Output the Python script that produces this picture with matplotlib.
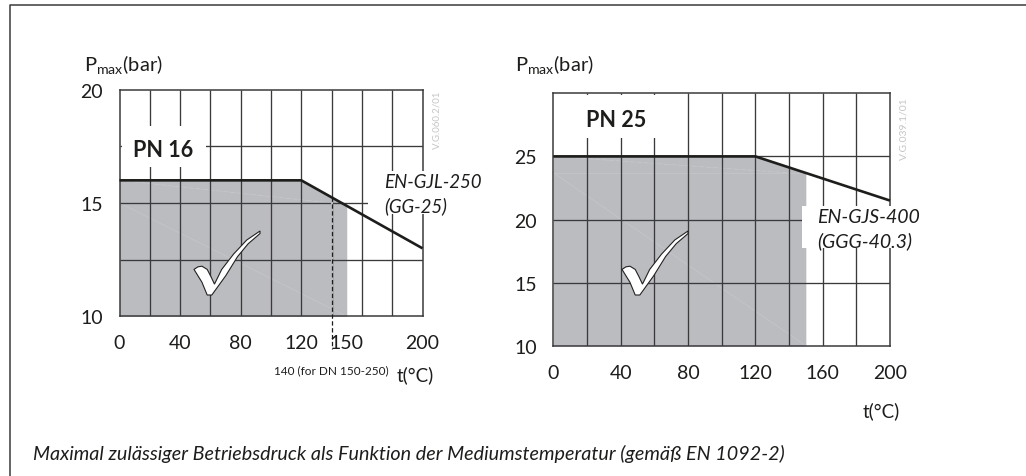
# coding: utf-8
""" max. operating pressure vs. medium temperature, PN 16 and PN 25 """
import matplotlib.pyplot as plt
from matplotlib.patches import Polygon, Rectangle

W, H = 1026, 477
plt.rcParams['font.family'] = ['Lato', 'DejaVu Sans']
plt.rcParams['mathtext.default'] = 'regular'

# PN 16 chart
t_16 = [0, 120, 200]
p_16 = [16, 16, 13]
fill_t_16 = [0, 120, 150]
fill_p_16 = [16, 16, 14.875]
xticks_16 = [0, 40, 80, 120, 150, 200]
yticks_16 = [10, 15, 20]
ygrid_16 = [12.5, 15, 17.5]
xgrid_16 = [20, 40, 60, 80, 100, 120, 140, 160, 180]

# PN 25 chart
t_25 = [0, 120, 200]
p_25 = [25, 25, 21.5]
fill_t_25 = [0, 120, 150]
fill_p_25 = [25, 25, 23.69]
xticks_25 = [0, 40, 80, 120, 160, 200]
yticks_25 = [10, 15, 20, 25]
ygrid_25 = [15, 20, 25]
xgrid_25 = [20, 40, 60, 80, 100, 120, 140, 160, 180]

caption = "Maximal zulässiger Betriebsdruck als Funktion der Mediumstemperatur (gemäß EN 1092-2)"

GRID = '#3a3a3c'
FILL = '#bbbcc0'
FAINT = '#c9c9cd'
# outline of the tick mark, 0..1 in both directions, y down
CHECK = [(0, .6), (.06, .56), (.12, .55), (.2, .6), (.26, .72), (.31, .83), (.42, .6), (.6, .36),
         (.8, .14), (1, 0), (1, .04), (.82, .2), (.66, .4), (.48, .7), (.27, 1), (.2, 1), (.12, .8)]


def fx(px):
    return px / W


def fy(py):
    return 1 - py / H


def make_axes(fig, left, top, right, bottom):
    return fig.add_axes([fx(left), fy(bottom), (right - left) / W, (bottom - top) / H])


def px_rect(ax, x0, y0, x1, y1, z):
    # white box behind a label, given in figure pixels
    ax.add_artist(Rectangle((fx(x0), fy(y1)), (x1 - x0) / W, (y1 - y0) / H, transform=ax.figure.transFigure,
                            fc='white', ec='none', zorder=z, clip_on=False))


def check(fig, x0, y0, w, h):
    pts = [(fx(x0 + a * w), fy(y0 + b * h)) for a, b in CHECK]
    fig.add_artist(Polygon(pts, closed=True, fc='white', ec='#222222', lw=0.8, zorder=10))


def draw(ax, t, p, fill_t, fill_p, xticks, yticks, xgrid, ygrid, xlim, ylim, xpad):
    ax.set_xlim(xlim)
    ax.set_ylim(ylim)
    ax.fill_between(fill_t, fill_p, ylim[0], color=FILL, lw=0, zorder=1)
    ax.vlines(xgrid, ylim[0], ylim[1], color=GRID, lw=0.95, zorder=2)
    ax.hlines(ygrid, xlim[0], xlim[1], color=GRID, lw=0.95, zorder=2)
    ax.plot(t, p, color='#1d1d1b', lw=1.9, zorder=6, solid_capstyle='butt', clip_on=False)
    ax.set_xticks(xticks)
    ax.set_yticks(yticks)
    ax.tick_params(length=0, labelsize=14, colors='#1d1d1b')
    ax.tick_params(axis='x', pad=xpad)
    ax.tick_params(axis='y', pad=12)
    for s in ax.spines.values():
        s.set_color(GRID)
        s.set_linewidth(1.1)
        s.set_zorder(3)


fig = plt.figure(figsize=(W / 100, H / 100), dpi=100)

# outer frame, open at the bottom and right
fig.add_artist(plt.Line2D([fx(9.7), fx(9.7), 1], [0, fy(5.7), fy(5.7)], color='#3a3a3c', lw=1.1))

ax1 = make_axes(fig, 119.5, 90.7, 422.5, 317.3)
draw(ax1, t_16, p_16, fill_t_16, fill_p_16, xticks_16, yticks_16, xgrid_16, ygrid_16, (0, 200), (10, 20), 12.5)
ax1.plot([0, 140], [16, 15], color=FAINT, lw=0.5, ls=(0, (8, 2)), zorder=1.5)
ax1.plot([0, 150], [15, 10], color=FAINT, lw=0.4, zorder=1.5)
# the DN 150-250 limit is dashed below the curve, and solid above it
ax1.add_patch(Rectangle((140 - 0.6, 10), 1.2, 5.25, fc=FILL, ec='none', zorder=2.1))
ax1.plot([140, 140], [15.25, 8.55], color='#1d1d1b', lw=0.9, ls=(0, (3.5, 2)), zorder=5, clip_on=False)
px_rect(ax1, 122, 127, 206, 168, 4)
px_rect(ax1, 368, 172, 482, 215, 4)

ax2 = make_axes(fig, 553.3, 94.3, 890, 346.7)
draw(ax2, t_25, p_25, fill_t_25, fill_p_25, xticks_25, yticks_25, xgrid_25, ygrid_25, (0, 200), (10, 30), 13.5)
ax2.plot([0, 140], [25, 23.7], color=FAINT, lw=0.5, ls=(0, (8, 2)), zorder=1.5)
ax2.plot([0, 150], [23.7, 23.7], color=FAINT, lw=0.4, zorder=1.5)
ax2.plot([0, 150], [23.7, 10], color=FAINT, lw=0.4, zorder=1.5)
px_rect(ax2, 556, 96, 680, 139, 4)
px_rect(ax2, 802, 207, 922, 249, 4)

check(fig, 194, 232, 66, 64)
check(fig, 622, 232, 66, 64)

# texts, placed in figure pixels
kw = dict(color='#1d1d1b', va='baseline', zorder=12)
fig.text(fx(84), fy(71.5), r'P$_{max}$(bar)', fontsize=14.5, **kw)
fig.text(fx(515), fy(71.5), r'P$_{max}$(bar)', fontsize=14.5, **kw)
fig.text(fx(133), fy(157), 'PN 16', fontsize=15.5, fontweight='bold', **kw)
fig.text(fx(586), fy(127), 'PN 25', fontsize=15.5, fontweight='bold', **kw)
fig.text(fx(384), fy(188), 'EN-GJL-250', fontsize=13.4, style='italic', **kw)
fig.text(fx(384), fy(212), '(GG-25)', fontsize=13.4, style='italic', **kw)
fig.text(fx(817), fy(223), 'EN-GJS-400', fontsize=14, style='italic', **kw)
fig.text(fx(817), fy(247), '(GGG-40.3)', fontsize=14, style='italic', **kw)
fig.text(fx(397), fy(381), 't(°C)', fontsize=13.5, **kw)
fig.text(fx(863), fy(417), 't(°C)', fontsize=13.5, **kw)
fig.text(fx(274), fy(374), '140 (for DN 150-250)', fontsize=8.5, **kw)
fig.text(fx(33), fy(460), caption, fontsize=14.2, style='italic', **kw)
fig.text(fx(437), fy(149), 'V.G.060.2/01', fontsize=7, color='#c6c6c8', rotation=90, ha='center', va='bottom')
fig.text(fx(904), fy(160), 'V.G.039.1/01', fontsize=7.5, color='#c6c6c8', rotation=90, ha='center', va='bottom')

fig.savefig('out.png', dpi=100)
